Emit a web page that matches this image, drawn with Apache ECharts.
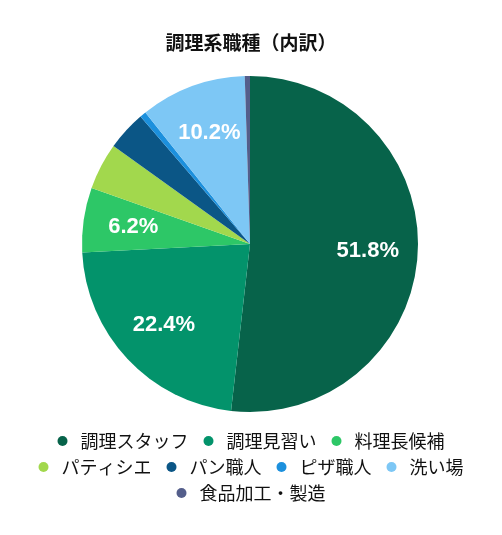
<!DOCTYPE html>
<html lang="ja">
<head>
    <meta charset="UTF-8">
    <title>調理系職種（内訳）</title>
    <script src="https://cdn.jsdelivr.net/npm/echarts@6/dist/echarts.min.js"></script>
    <style>
        html, body { margin: 0; padding: 0; background: #fff; }
    </style>
</head>
<body>
    <div id="chart" style="width: 502px; height: 535px"></div>
    <script>
        var categories = ['調理スタッフ', '調理見習い', '料理長候補', 'パティシエ', 'パン職人', 'ピザ職人', '洗い場', '食品加工・製造'];
        var shares = [51.8, 22.4, 6.2, 4.5, 3.8, 0.6, 10.2, 0.5];
        var colors = ['#07634a', '#03936b', '#2dc767', '#a2d84d', '#0b5686', '#1c90dd', '#7dc7f5', '#545e8b'];
        // legend rows as they wrap in the picture
        var legendRows = [
            ['調理スタッフ', '調理見習い', '料理長候補'],
            ['パティシエ', 'パン職人', 'ピザ職人', '洗い場'],
            ['食品加工・製造']
        ];

        var jpFont = '"Noto Sans CJK JP", sans-serif';
        var pieData = categories.map(function(name, i) {
            return { name: name, value: shares[i] };
        });

        var chart = echarts.init(document.getElementById('chart'));

        var legends = legendRows.map(function(row, i) {
            return {
                data: row,
                left: 'center',
                top: 427 + i * 26,
                icon: 'circle',
                itemWidth: 10,
                itemHeight: 10,
                itemGap: 15,
                textStyle: {
                    fontFamily: jpFont,
                    fontSize: 18,
                    color: '#111',
                    padding: [0, 0, 0, 8]
                }
            };
        });

        chart.setOption({
            color: colors,
            title: {
                text: '調理系職種（内訳）',
                left: 'center',
                top: 28,
                textStyle: { fontFamily: jpFont, fontSize: 19, fontWeight: 'bold', color: '#111' }
            },
            legend: legends,
            series: [{
                type: 'pie',
                center: [250, 244],
                radius: [0, 168],
                startAngle: 90,
                clockwise: true,
                animation: false,
                label: { show: false },
                labelLine: { show: false },
                data: pieData
            }, {
                // label ring, sits at ~2/3 radius like the original
                type: 'pie',
                center: [250, 244],
                radius: [92, 138],
                startAngle: 90,
                clockwise: true,
                silent: true,
                animation: false,
                itemStyle: { color: 'transparent' },
                label: {
                    position: 'inside',
                    color: '#fff',
                    fontFamily: 'Liberation Sans, Arial, sans-serif',
                    fontWeight: 'bold',
                    fontSize: 22,
                    formatter: function(p) {
                        return p.value >= 5 ? p.value.toFixed(1) + '%' : '';
                    }
                },
                labelLine: { show: false },
                data: pieData
            }]
        });
    </script>
</body>
</html>
